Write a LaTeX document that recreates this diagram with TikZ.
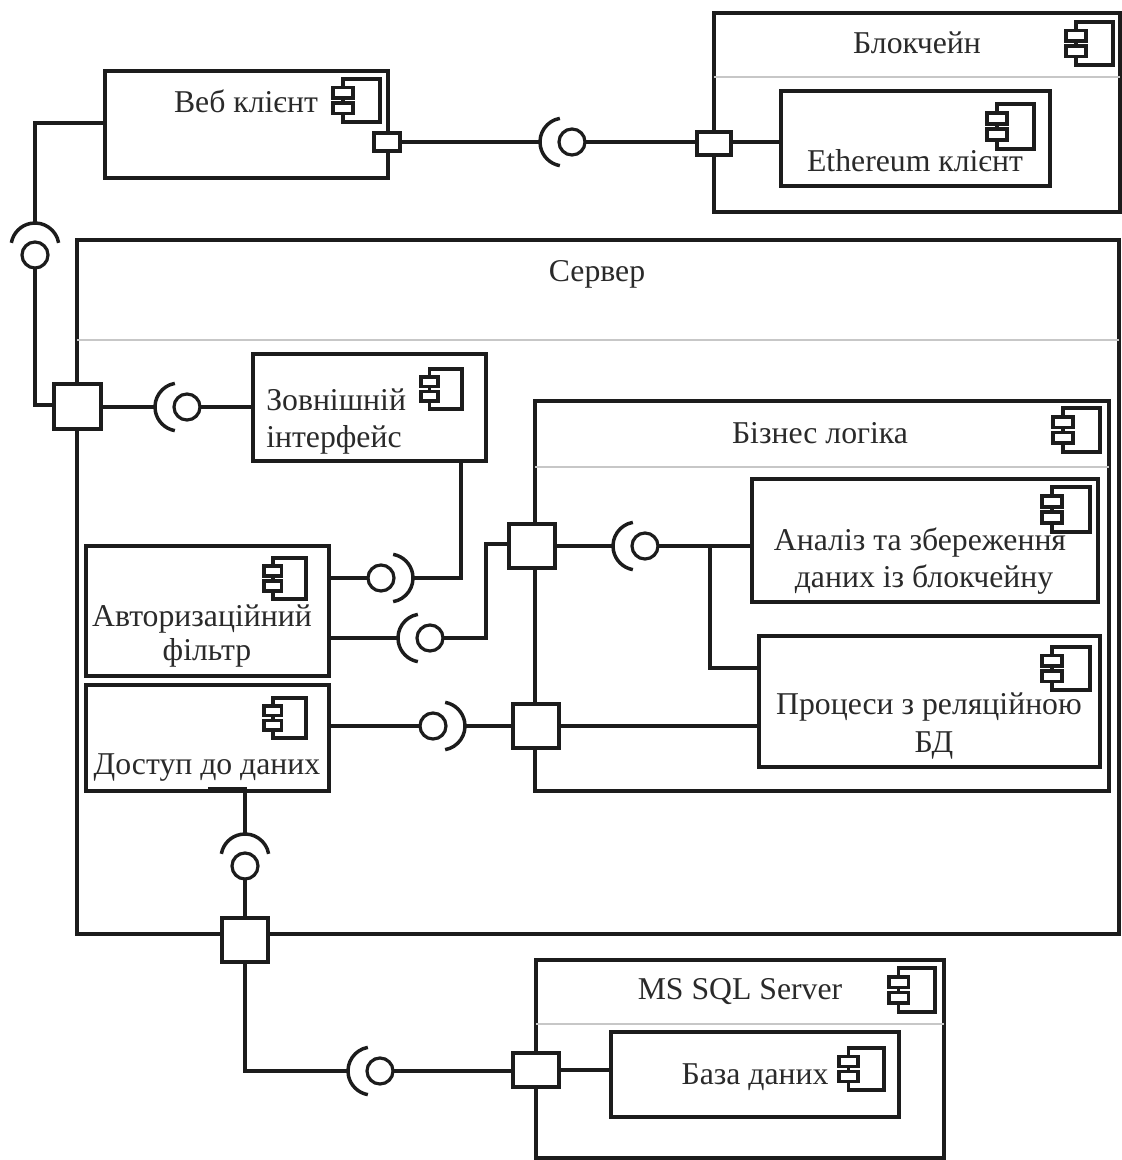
\documentclass[tikz,border=0pt]{standalone}
\usepackage{fontspec}
\setmainfont{Liberation Serif}
\usetikzlibrary{calc}
\definecolor{ink}{HTML}{1C1C1C}
\definecolor{txt}{HTML}{2A2A2A}
\tikzset{
  compbox/.style={draw=ink,line width=3pt,fill=white,inner sep=0pt,outer sep=0pt},
  portbox/.style={draw=ink,line width=2.8pt,fill=white,inner sep=0pt,outer sep=0pt},
  wire/.style={draw=ink,line width=2.6pt,line join=miter},
  sepline/.style={draw=black!22,line width=1.5pt},
  sockc/.style={circle,draw=ink,line width=2.4pt,fill=white,minimum size=19.5pt,inner sep=0pt,outer sep=0pt},
  sockarc/.style={draw=ink,line width=2.6pt},
  lbl/.style={text=txt,inner sep=0pt,font=\fontsize{23.8pt}{27pt}\selectfont},
  iconmain/.style={draw=ink,line width=2.7pt,fill=white},
}
% box from corners, in pixels
\newcommand{\mybox}[6][compbox]{%
  \pgfmathsetmacro{\bw}{(#5-#3)*0.75}\pgfmathsetmacro{\bh}{(#6-#4)*0.75}%
  \pgfmathsetmacro{\bx}{(#3+#5)/2}\pgfmathsetmacro{\by}{(#4+#6)/2}%
  \node[#1,minimum width=\bw pt,minimum height=\bh pt] (#2) at (\bx,\by) {};}
% interface socket: name, x, y, direction of the open arc
\newcommand{\sock}[4]{%
  \node[sockc] (#1) at (#2,#3) {};%
  \coordinate (#1-a) at ($(#1)+(#4:24pt)$);%
  \draw[sockarc] ($(#1)+(#4:6pt)+(#4-80:18pt)$) arc[start angle=#4-80,delta angle=160,radius=18pt];}
% component icon: left, top, width, height
\newcommand{\compicon}[4]{%
  \begin{scope}[shift={(#1,#2)}]
    \pgfmathsetmacro{\ix}{#3*0.21}\pgfmathsetmacro{\it}{#3*0.42}
    \draw[iconmain] (\ix,0) rectangle (#3,#4);
    \draw[iconmain] (0,#4*0.20) rectangle (\it,#4*0.44);
    \draw[iconmain] (0,#4*0.56) rectangle (\it,#4*0.80);
  \end{scope}}
\begin{document}
\begin{tikzpicture}[x=0.75pt,y=-0.75pt]
\useasboundingbox (0,0) rectangle (1121,1160);
\fill[white] (0,0) rectangle (1121,1160);

% containers
\mybox{web}{105}{71}{388}{178}
\mybox{chain}{714}{13}{1120}{212}
\draw[sepline] (chain.west |- 0,77) -- (chain.east |- 0,77);
\mybox{eth}{781}{91}{1050}{186}
\mybox{server}{77}{240}{1119}{934}
\draw[sepline] (server.west |- 0,340) -- (server.east |- 0,340);
\mybox{ext}{253}{354}{486}{461}
\mybox{biz}{535}{401}{1109}{791}
\draw[sepline] (biz.west |- 0,467) -- (biz.east |- 0,467);
\mybox{ana}{752}{479}{1098}{602}
\mybox{proc}{759}{636}{1100}{767}
\mybox{auth}{86}{546}{329}{676}
\mybox{acc}{86}{685}{329}{791}
\mybox{ms}{536}{960}{944}{1158}
\draw[sepline] (ms.west |- 0,1024) -- (ms.east |- 0,1024);
\mybox{db}{611}{1032}{899}{1117}

% ports
\mybox[portbox]{pweb}{374}{133}{400}{151}
\mybox[portbox]{pchain}{697}{132}{731}{155}
\mybox[portbox]{psrv}{54}{384}{101}{429}
\mybox[portbox]{pbiz}{509}{524}{555}{568}
\mybox[portbox]{pbiz2}{513}{704}{559}{748}
\mybox[portbox]{pbot}{222}{918}{268}{962}
\mybox[portbox]{pms}{513}{1053}{559}{1087}

% sockets
\sock{s1}{572}{142}{180}
\sock{s2}{35}{255}{90}
\sock{s3}{187}{407}{180}
\sock{s4}{381}{578}{0}
\sock{s5}{430}{638}{180}
\sock{s6}{433}{726}{0}
\sock{s7}{245}{866}{90}
\sock{s8}{645}{546}{180}
\sock{s9}{380}{1071}{180}

% bends
\coordinate (b2a) at (35,123);
\coordinate (b2b) at (35,405);
\coordinate (b4) at (461,578);
\coordinate (b5a) at (486,638);
\coordinate (b5b) at (486,544);
\coordinate (b7a) at (208,789);
\coordinate (b7) at (245,789);
\coordinate (b8a) at (710,546);
\coordinate (b8b) at (710,668);
\coordinate (b9) at (245,1071);

% connectors
\draw[wire] (pweb.east) -- (s1-a);
\draw[wire] (s1) -- (pchain.west |- s1);
\draw[wire] (pchain.east |- s1) -- (eth.west |- s1);
\draw[wire] (web.west |- b2a) -- (b2a) -- (s2-a);
\draw[wire] (s2) -- (b2b) -- (psrv.west |- b2b);
\draw[wire] (psrv.east |- s3) -- (s3-a);
\draw[wire] (s3) -- (ext.west |- s3);
\draw[wire] (auth.east |- s4) -- (s4);
\draw[wire] (s4-a) -- (b4) -- (ext.south -| b4);
\draw[wire] (auth.east |- s5-a) -- (s5-a);
\draw[wire] (s5) -- (b5a) -- (b5b) -- (pbiz.west |- b5b);
\draw[wire] (acc.east |- s6) -- (s6);
\draw[wire] (s6-a) -- (pbiz2.west |- s6-a);
\draw[wire] (pbiz2.east) -- (proc.west |- pbiz2.east);
\draw[wire] (b7a) -- (b7) -- (s7-a);
\draw[wire] (s7) -- (pbot.north);
\draw[wire] (pbot.south) -- (b9) -- (s9-a);
\draw[wire] (s9) -- (pms.west |- s9);
\draw[wire] (pms.east) -- (db.west |- pms.east);
\draw[wire] (pbiz.east |- s8-a) -- (s8-a);
\draw[wire] (s8) -- (ana.west |- s8);
\draw[wire] (b8a) -- (b8b) -- (proc.west |- b8b);

% icons
\compicon{333}{79}{47}{43}
\compicon{1066}{22}{47}{43}
\compicon{987}{104}{47}{45}
\compicon{421}{369}{41}{40}
\compicon{1053}{408}{47}{44}
\compicon{1042}{487}{48}{45}
\compicon{1042}{647}{48}{43}
\compicon{264}{558}{42}{41}
\compicon{264}{698}{42}{40}
\compicon{889}{968}{46}{44}
\compicon{839}{1048}{45}{42}

% labels
\node[lbl] (t1) at (246,101) {Веб клієнт};
\node[lbl] (t2) at (917,43) {Блокчейн};
\node[lbl] (t3) at (915,161) {Ethereum клієнт};
\node[lbl] (t4) at (597,274) {Сервер};
\node[lbl,anchor=west] (t5) at (266,400) {Зовнішній};
\node[lbl,anchor=west] (t6) at (266,440) {інтерфейс};
\node[lbl] (t7) at (820,433) {Бізнес логіка};
\node[lbl] (t8) at (920,543) {Аналіз та збереження};
\node[lbl] (t9) at (924,580) {даних із блокчейну};
\node[lbl] (t10) at (202,619) {Авторизаційний};
\node[lbl] (t11) at (207,653) {фільтр};
\node[lbl] (t12) at (929,707) {Процеси з реляційною};
\node[lbl] (t13) at (934,745) {БД};
\node[lbl] (t14) at (207,768) {Доступ до даних};
\node[lbl] (t15) at (740,992) {MS SQL Server};
\node[lbl] (t16) at (755,1077) {База даних};
\end{tikzpicture}
\end{document}
